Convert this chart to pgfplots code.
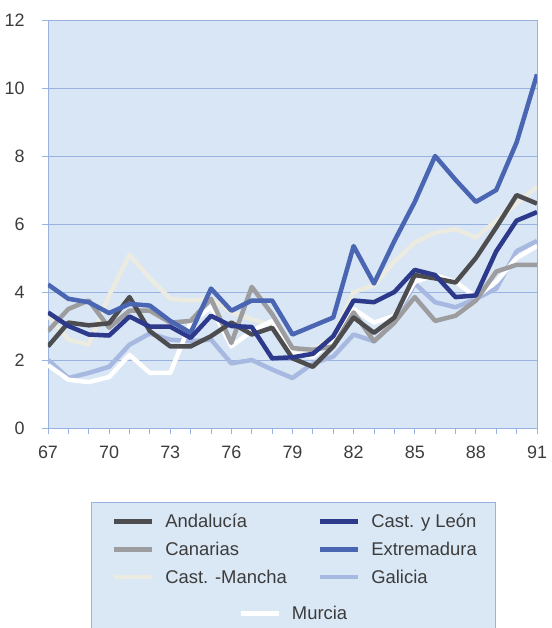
\documentclass[border=0pt]{standalone}
\usepackage{pgfplots}
\pgfplotsset{compat=1.18}
\usepackage{fontspec}
\setmainfont{Liberation Sans}
\definecolor{bgblue}{HTML}{D8E6F5}
\definecolor{gridblue}{HTML}{9AB2DF}
\definecolor{legfill}{HTML}{DAE7F5}
\definecolor{labgray}{HTML}{3C3C3C}
\definecolor{cAnd}{HTML}{4D4D50}
\definecolor{cCan}{HTML}{9D9DA0}
\definecolor{cCLM}{HTML}{EBEBE2}
\definecolor{cCyL}{HTML}{2D3A8C}
\definecolor{cExt}{HTML}{4A66B2}
\definecolor{cGal}{HTML}{A7B9E0}
\definecolor{cMur}{HTML}{FFFFFF}
\pgfplotsset{
  ser/.style={line width=4.5bp, line join=round},
  sAnd/.style={ser, color=cAnd},
  sCan/.style={ser, color=cCan},
  sCLM/.style={ser, color=cCLM},
  sCyL/.style={ser, color=cCyL},
  sExt/.style={ser, color=cExt},
  sGal/.style={ser, color=cGal},
  sMur/.style={ser, color=cMur},
  legline/.style={legend image code/.code={\draw[##1] (0bp,0bp) -- (38bp,0bp);}},
}
\begin{document}
\begin{tikzpicture}
\path[use as bounding box] (-48bp,-200bp) rectangle (504bp,428bp);
\filldraw[fill=legfill, draw=gridblue, line width=0.8bp] (43bp,-74bp) rectangle (447bp,-201bp);
\begin{axis}[
  at={(0,0)}, anchor=south west,
  scale only axis, width=489bp, height=408bp,
  xmin=67, xmax=91, ymin=0, ymax=12,
  axis background/.style={fill=bgblue},
  axis line style={gridblue, line width=0.8bp},
  xtick={67,70,...,91}, minor xtick={67,...,91},
  ytick={0,2,...,12},
  ymajorgrids, major grid style={gridblue, line width=0.7bp},
  tick style={gridblue, line width=0.8bp},
  tick pos=left, tick align=outside,
  major tick length=6bp, minor tick length=6bp,
  ticklabel style={font=\fontsize{18}{22}\selectfont, text=labgray},
  /pgf/number format/assume math mode=true,
  xticklabel style={yshift=-8bp},
  yticklabel style={xshift=-14bp},
  legline,
  legend columns=2,
  legend style={at={(axis description cs:0.13,-0.205)}, anchor=north west,
    draw=none, fill=none, inner sep=0pt,
    font=\fontsize{18.5}{21}\selectfont, text=labgray,
    row sep=9bp,
    /tikz/every odd column/.append style={column sep=9bp},
    /tikz/every even column/.append style={column sep=29bp}},
  legend cell align=left,
]
\addplot[sCLM, forget plot] coordinates {(67,3.3)(68,2.6)(69,2.45)(70,3.9)(71,5.1)(72,4.4)(73,3.8)(74,3.75)(75,3.8)(76,3.4)(77,3.2)(78,3.0)(79,2.3)(80,2.3)(81,2.7)(82,4.0)(83,4.2)(84,4.9)(85,5.45)(86,5.75)(87,5.85)(88,5.6)(89,6.1)(90,6.6)(91,7.1)};
\addplot[sGal, forget plot] coordinates {(67,2.0)(68,1.47)(69,1.62)(70,1.8)(71,2.45)(72,2.78)(73,2.6)(74,2.55)(75,2.6)(76,1.9)(77,2.0)(78,1.72)(79,1.47)(80,1.9)(81,2.1)(82,2.75)(83,2.55)(84,3.1)(85,4.25)(86,3.7)(87,3.55)(88,3.8)(89,4.1)(90,5.2)(91,5.5)};
\addplot[sMur, forget plot] coordinates {(67,1.85)(68,1.42)(69,1.35)(70,1.5)(71,2.15)(72,1.62)(73,1.62)(74,3.1)(75,3.55)(76,2.4)(77,2.85)(78,3.15)(79,2.2)(80,2.1)(81,2.6)(82,3.5)(83,3.1)(84,3.3)(85,4.3)(86,4.5)(87,4.3)(88,3.85)(89,4.3)(90,5.0)(91,5.35)};
\addplot[sCan, forget plot] coordinates {(67,2.85)(68,3.5)(69,3.75)(70,2.95)(71,3.45)(72,3.45)(73,3.1)(74,3.15)(75,3.8)(76,2.5)(77,4.15)(78,3.35)(79,2.35)(80,2.3)(81,2.4)(82,3.4)(83,2.55)(84,3.1)(85,3.85)(86,3.15)(87,3.3)(88,3.75)(89,4.6)(90,4.8)(91,4.8)};
\addplot[sAnd, forget plot] coordinates {(67,2.4)(68,3.1)(69,3.02)(70,3.08)(71,3.85)(72,2.85)(73,2.4)(74,2.4)(75,2.7)(76,3.1)(77,2.75)(78,2.95)(79,2.05)(80,1.8)(81,2.4)(82,3.25)(83,2.8)(84,3.25)(85,4.5)(86,4.4)(87,4.28)(88,5.0)(89,5.9)(90,6.85)(91,6.6)};
\addplot[sExt, forget plot] coordinates {(67,4.22)(68,3.8)(69,3.7)(70,3.38)(71,3.65)(72,3.6)(73,3.15)(74,2.8)(75,4.1)(76,3.45)(77,3.75)(78,3.75)(79,2.75)(80,3.0)(81,3.25)(82,5.35)(83,4.25)(84,5.5)(85,6.65)(86,8.0)(87,7.3)(88,6.65)(89,7.0)(90,8.4)(91,10.4)};
\addplot[sCyL, forget plot] coordinates {(67,3.4)(68,3.0)(69,2.75)(70,2.72)(71,3.28)(72,2.98)(73,2.98)(74,2.65)(75,3.3)(76,3.0)(77,2.97)(78,2.05)(79,2.08)(80,2.18)(81,2.7)(82,3.75)(83,3.7)(84,4.0)(85,4.65)(86,4.5)(87,3.85)(88,3.9)(89,5.2)(90,6.1)(91,6.35)};
\addlegendimage{sAnd}\addlegendentry{Andalucía}
\addlegendimage{sCyL}\addlegendentry{Cast. y León}
\addlegendimage{sCan}\addlegendentry{Canarias}
\addlegendimage{sExt}\addlegendentry{Extremadura}
\addlegendimage{sCLM}\addlegendentry{Cast. -Mancha}
\addlegendimage{sGal}\addlegendentry{Galicia}
\end{axis}
\begin{axis}[
  at={(0,0)}, anchor=south west,
  scale only axis, width=489bp, height=408bp,
  xmin=67, xmax=91, ymin=0, ymax=12,
  hide axis, legline,
  legend style={at={(axis description cs:0.389,-0.455)}, anchor=west,
    draw=none, fill=none, inner sep=0pt,
    font=\fontsize{18.5}{21}\selectfont, text=labgray,
    /tikz/every odd column/.append style={column sep=9bp}},
]
\addlegendimage{sMur}\addlegendentry{Murcia}
\end{axis}
\end{tikzpicture}
\end{document}
